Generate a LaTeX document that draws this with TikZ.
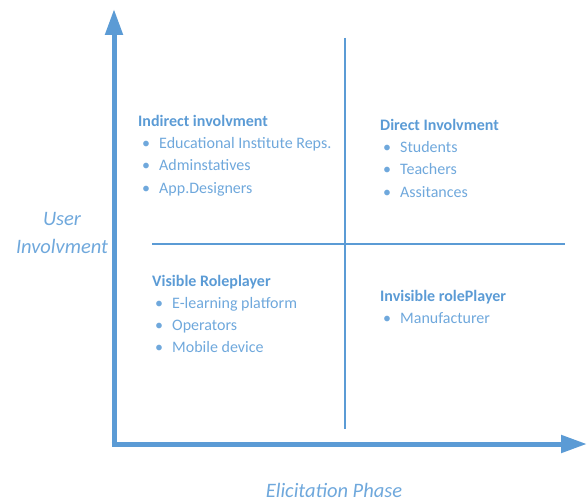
\documentclass[tikz,border=0pt]{standalone}
\usepackage{fontspec}
\setmainfont{Carlito}
\usetikzlibrary{arrows.meta,positioning}
\definecolor{axisblue}{HTML}{5B9BD5}
\definecolor{textblue}{HTML}{6FA8DC}

\tikzset{
	axis/.style={draw=axisblue,line width=5pt,-{Triangle[length=26pt,width=17pt]}},
	divider/.style={draw=axisblue,line width=1.4pt},
	heading/.style={anchor=base west,inner sep=0pt,text=axisblue,font=\fontsize{16}{19}\selectfont\bfseries},
	item/.style={anchor=base west,inner sep=0pt,text=textblue,font=\fontsize{16}{19}\selectfont},
	axislabel/.style={inner sep=0pt,text=textblue,font=\fontsize{20.5}{28}\selectfont\itshape,align=center}
}
\newcommand{\bul}[1]{\makebox[17pt][l]{\textbullet}#1}

\begin{document}
\begin{tikzpicture}[x=1pt,y=-1pt]
	\useasboundingbox (0,0) rectangle (587,503);
	% axes
	\coordinate (origin) at (114,444);
	\coordinate (ytip) at (114,9);
	\coordinate (xtip) at (587,444);
	\draw[axis] (origin) -- (ytip);
	\draw[axis] ([xshift=-2.5pt]origin) -- (xtip);
	% quadrant lines
	\coordinate (vtop) at (345,38);
	\coordinate (vbot) at (345,429);
	\coordinate (hleft) at (152,244);
	\coordinate (hright) at (565,244);
	\draw[divider] (vtop) -- (vbot);
	\draw[divider] (hleft) -- (hright);
	% axis labels
	\node[axislabel,anchor=base] (user) at (62,253) {User\\Involvment};
	\node[axislabel,anchor=base] (phase) at (334,497) {Elicitation Phase};
	% top left
	\node[heading] (indirect) at (138,127) {Indirect involvment};
	\foreach \txt [count=\i] in {Educational Institute Reps., Adminstatives, App.Designers}
		\node[item] (indirect\i) at (142,127+22*\i) {\bul{\txt}};
	% top right
	\node[heading] (direct) at (380,131) {Direct Involvment};
	\foreach \txt [count=\i] in {Students, Teachers, Assitances}
		\node[item] (direct\i) at (383,131+22*\i) {\bul{\txt}};
	% bottom left
	\node[heading] (visible) at (152,286) {Visible Roleplayer};
	\foreach \txt [count=\i] in {E-learning platform, Operators, Mobile device}
		\node[item] (visible\i) at (155,286+22*\i) {\bul{\txt}};
	% bottom right
	\node[heading] (invisible) at (380,301) {Invisible rolePlayer};
	\node[item] (invisible1) at (383,323) {\bul{Manufacturer}};
\end{tikzpicture}
\end{document}
